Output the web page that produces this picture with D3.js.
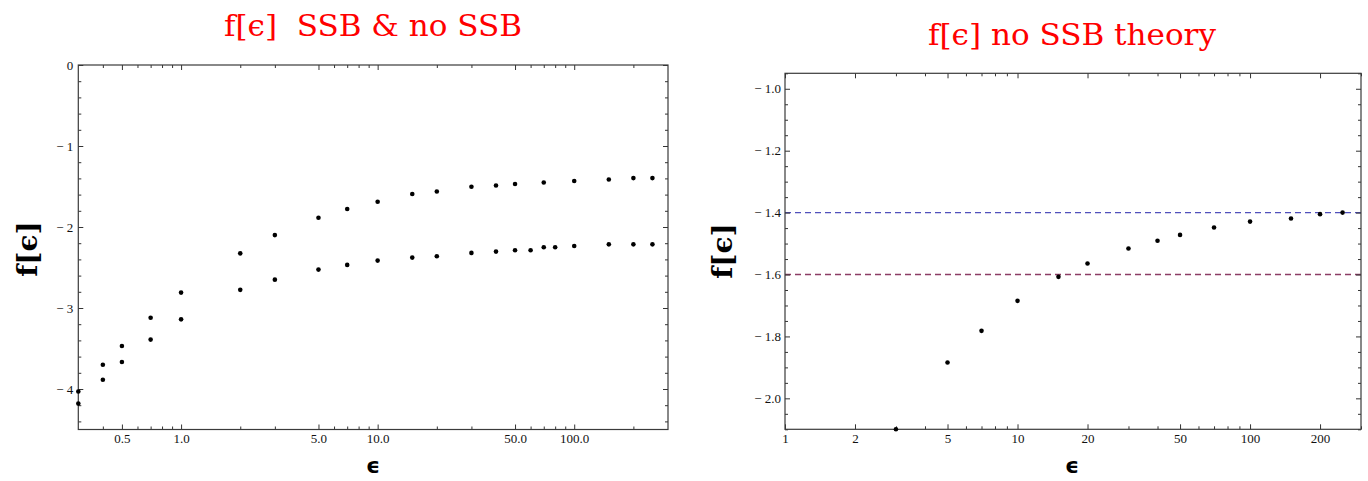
<!DOCTYPE html>
<html>
<head>
<meta charset="utf-8">
<script src="https://cdn.jsdelivr.net/npm/d3@7"></script>
<style>
  html, body { margin: 0; padding: 0; background: #fff; }
  svg { display: block; }
  .tick text { font-family: 'Liberation Serif', 'Times New Roman', serif !important; font-size: 13px !important; }
</style>
</head>
<body>
<svg id="chart" width="1368" height="481"></svg>
<script>
// ---------- data ----------
const epsNoSSB = [0.3, 0.4, 0.5, 0.7, 1, 2, 3, 5, 7, 10, 15, 20, 30, 40, 50, 70, 100, 150, 200, 250];
const fNoSSB   = [-4.03, -3.70, -3.47, -3.12, -2.81, -2.325, -2.10, -1.885, -1.778, -1.688, -1.593, -1.561, -1.503, -1.487, -1.470, -1.450, -1.433, -1.413, -1.396, -1.396];

const epsSSB = [0.3, 0.4, 0.5, 0.7, 1, 2, 3, 5, 7, 10, 15, 20, 30, 40, 50, 60, 70, 80, 100, 150, 200, 250];
const fSSB   = [-4.18, -3.885, -3.667, -3.39, -3.14, -2.776, -2.65, -2.526, -2.468, -2.415, -2.378, -2.361, -2.320, -2.304, -2.287, -2.287, -2.250, -2.250, -2.234, -2.214, -2.214, -2.214];

const epsTheory = [3, 5, 7, 10, 15, 20, 30, 40, 50, 70, 100, 150, 200, 250];
const fTheory   = [-2.10, -1.884, -1.782, -1.685, -1.6075, -1.5645, -1.516, -1.491, -1.472, -1.448, -1.429, -1.419, -1.405, -1.400];

const refLevels = [-1.4, -1.6];
const refColors = ["#5050bb", "#8c3c64"];

const leftXMajor = [0.5, 1, 5, 10, 50, 100];
const leftXLabels = ["0.5", "1.0", "5.0", "10.0", "50.0", "100.0"];
const leftXMinor = [0.4, 0.6, 0.7, 0.8, 0.9, 2, 3, 6, 7, 8, 9, 20, 30, 60, 70, 80, 90, 200];
const leftYMajor = [0, -1, -2, -3, -4];
const leftYLabels = ["0", "\u2212 1", "\u2212 2", "\u2212 3", "\u2212 4"];
const leftYMinor = [-0.2, -0.4, -0.6, -0.8, -1.2, -1.4, -1.6, -1.8, -2.2, -2.4, -2.6, -2.8, -3.2, -3.4, -3.6, -3.8, -4.2, -4.4];

const rightXMajor = [1, 2, 5, 10, 20, 50, 100, 200];
const rightXLabels = ["1", "2", "5", "10", "20", "50", "100", "200"];
const rightXMinor = [3, 4, 6, 7, 8, 9, 30, 40, 60, 70, 80, 90, 300];
const rightYMajor = [-1.0, -1.2, -1.4, -1.6, -1.8, -2.0];
const rightYLabels = ["\u2212 1.0", "\u2212 1.2", "\u2212 1.4", "\u2212 1.6", "\u2212 1.8", "\u2212 2.0"];
const rightYMinor = [-0.95, -1.05, -1.1, -1.15, -1.25, -1.3, -1.35, -1.45, -1.5, -1.55, -1.65, -1.7, -1.75, -1.85, -1.9, -1.95, -2.05, -2.1];

const titles = ["f[\u03F5]  SSB & no SSB", "f[\u03F5] no SSB theory"];

// ---------- drawing ----------
const svg = d3.select("#chart");
const serif = "'Liberation Serif', 'Times New Roman', serif";

function panel(cfg) {
  const x = d3.scaleLog().domain(cfg.xDomain).range([cfg.left, cfg.right]);
  const y = d3.scaleLinear().domain(cfg.yDomain).range([cfg.bottom, cfg.top]);
  const g = svg.append("g");
  const W = cfg.right - cfg.left, H = cfg.bottom - cfg.top;

  if (cfg.refs) {
    g.selectAll("line.ref").data(cfg.refs).join("line")
      .attr("x1", cfg.left).attr("x2", cfg.right)
      .attr("y1", d => y(d)).attr("y2", d => y(d))
      .attr("stroke", (d, i) => cfg.refColors[i])
      .attr("stroke-width", 1.3)
      .attr("stroke-dasharray", "6,4");
  }

  function styleAxis(sel) {
    sel.attr("font-family", serif).attr("font-size", 13);
    sel.select(".domain").remove();
    sel.selectAll("line").attr("stroke", "#333").attr("stroke-width", 1);
    sel.selectAll("text").attr("fill", "#111");
  }

  const majMap = new Map(cfg.xMajor.map((v, i) => [v, cfg.xLabels[i]]));
  const yMap = new Map(cfg.yMajor.map((v, i) => [v, cfg.yLabels[i]]));

  g.append("g").attr("transform", `translate(0,${cfg.bottom})`)
    .call(d3.axisBottom(x).tickValues(cfg.xMajor).tickSizeInner(-5).tickSizeOuter(0).tickPadding(4.5).tickFormat(d => majMap.get(d)))
    .call(styleAxis);
  g.append("g").attr("transform", `translate(0,${cfg.bottom})`)
    .call(d3.axisBottom(x).tickValues(cfg.xMinor).tickSizeInner(-3).tickSizeOuter(0).tickFormat(""))
    .call(styleAxis);
  g.append("g").attr("transform", `translate(0,${cfg.top})`)
    .call(d3.axisTop(x).tickValues(cfg.xMajor).tickSizeInner(-5).tickSizeOuter(0).tickFormat(""))
    .call(styleAxis);
  g.append("g").attr("transform", `translate(0,${cfg.top})`)
    .call(d3.axisTop(x).tickValues(cfg.xMinor).tickSizeInner(-3).tickSizeOuter(0).tickFormat(""))
    .call(styleAxis);
  g.append("g").attr("transform", `translate(${cfg.left},0)`)
    .call(d3.axisLeft(y).tickValues(cfg.yMajor).tickSizeInner(-5).tickSizeOuter(0).tickPadding(cfg.yPad).tickFormat(d => yMap.get(d)))
    .call(styleAxis);
  g.append("g").attr("transform", `translate(${cfg.left},0)`)
    .call(d3.axisLeft(y).tickValues(cfg.yMinor).tickSizeInner(-3).tickSizeOuter(0).tickFormat(""))
    .call(styleAxis);
  g.append("g").attr("transform", `translate(${cfg.right},0)`)
    .call(d3.axisRight(y).tickValues(cfg.yMajor).tickSizeInner(-5).tickSizeOuter(0).tickFormat(""))
    .call(styleAxis);
  g.append("g").attr("transform", `translate(${cfg.right},0)`)
    .call(d3.axisRight(y).tickValues(cfg.yMinor).tickSizeInner(-3).tickSizeOuter(0).tickFormat(""))
    .call(styleAxis);

  g.append("rect").attr("x", cfg.left).attr("y", cfg.top).attr("width", W).attr("height", H)
    .attr("fill", "none").attr("stroke", "#3a3a3a").attr("stroke-width", 1.2);

  cfg.series.forEach(s => {
    g.append("g").selectAll("circle").data(s.x.map((v, i) => [v, s.y[i]])).join("circle")
      .attr("cx", d => x(d[0])).attr("cy", d => y(d[1])).attr("r", 2.3).attr("fill", "#000");
  });

  g.append("text").attr("x", cfg.titleX).attr("y", cfg.titleY).attr("text-anchor", "middle")
    .attr("font-family", "'DejaVu Serif', serif").attr("font-size", 29).attr("fill", "#ff0000")
    .style("white-space", "pre")
    .attr("textLength", cfg.titleW).attr("lengthAdjust", "spacingAndGlyphs")
    .text(cfg.title);

  g.append("text").attr("x", (cfg.left + cfg.right) / 2 + cfg.xLabDx).attr("y", 473).attr("text-anchor", "middle")
    .attr("font-family", "'DejaVu Sans', sans-serif").attr("font-weight", "bold").attr("font-size", 22)
    .text("\u03F5");

  g.append("text").attr("transform", `translate(${cfg.yLabX},${cfg.yLabY}) rotate(-90)`)
    .attr("text-anchor", "middle")
    .attr("font-family", "'DejaVu Serif', serif").attr("font-weight", "bold").attr("font-size", 28)
    .text("f[\u03F5]");
}

panel({
  left: 78.3, right: 668, top: 65, bottom: 429.5,
  xDomain: [0.3, 300], yDomain: [-4.5, 0],
  xMajor: leftXMajor, xLabels: leftXLabels, xMinor: leftXMinor,
  yMajor: leftYMajor, yLabels: leftYLabels, yMinor: leftYMinor, yPad: 5,
  series: [{x: epsNoSSB, y: fNoSSB}, {x: epsSSB, y: fSSB}],
  title: titles[0], titleX: 373, titleY: 36, titleW: 298,
  xLabDx: 0, yLabX: 37, yLabY: 249
});

panel({
  left: 785, right: 1361, top: 73.3, bottom: 429.3,
  xDomain: [1, 300], yDomain: [-2.1, -0.95],
  xMajor: rightXMajor, xLabels: rightXLabels, xMinor: rightXMinor,
  yMajor: rightYMajor, yLabels: rightYLabels, yMinor: rightYMinor, yPad: 4,
  series: [{x: epsTheory, y: fTheory}],
  refs: refLevels, refColors: refColors,
  title: titles[1], titleX: 1072, titleY: 45, titleW: 288,
  xLabDx: -1, yLabX: 732, yLabY: 251
});
</script>
</body>
</html>
